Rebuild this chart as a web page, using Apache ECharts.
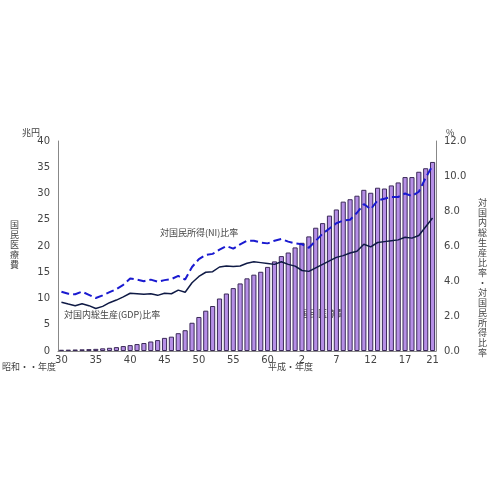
<!DOCTYPE html>
<html>
<head>
<meta charset="utf-8">
<script src="https://cdn.jsdelivr.net/npm/echarts@6/dist/echarts.min.js"></script>
<style>html,body{margin:0;padding:0;background:#fff}#main{width:500px;height:500px}</style>
</head>
<body>
<div id="main"></div>
<script>
// 昭和30〜63, 平成1〜21
const years = []
for (let i = 30; i <= 63; i++) years.push(String(i))
for (let i = 1; i <= 21; i++) years.push(String(i))
const shownIdx = [0, 5, 10, 15, 20, 25, 30, 35, 40, 45, 50, 54]

// 国民医療費 (兆円)
const medical = [0.24, 0.26, 0.29, 0.32, 0.36, 0.41, 0.51, 0.61, 0.74, 0.94,
	1.12, 1.32, 1.52, 1.81, 2.08, 2.50, 2.73, 3.39, 3.96, 5.38,
	6.48, 7.68, 8.57, 10.0, 10.95, 11.98, 12.87, 13.84, 14.54, 15.09,
	16.02, 17.07, 18.08, 18.76, 19.73, 20.61, 21.83, 23.48, 24.36, 25.79,
	26.96, 28.45, 28.91, 29.58, 30.70, 30.14, 31.10, 30.95, 31.54, 32.11,
	33.13, 33.13, 34.14, 34.81, 36.01]

// 対国民所得(NI)比率 (%)
const niRatio = [3.39, 3.27, 3.24, 3.39, 3.21, 3.03, 3.18, 3.36, 3.54, 3.78,
	4.14, 4.08, 3.99, 4.08, 3.96, 4.05, 4.11, 4.29, 4.08, 4.80,
	5.25, 5.49, 5.55, 5.79, 6.00, 5.85, 6.09, 6.30, 6.30, 6.20,
	6.15, 6.30, 6.40, 6.25, 6.15, 6.10, 5.90, 6.30, 6.70, 7.00,
	7.30, 7.45, 7.50, 7.90, 8.40, 8.10, 8.60, 8.70, 8.80, 8.80,
	9.00, 8.85, 9.10, 9.90, 10.60]

// 対国内総生産(GDP)比率 (%)
const gdpRatio = [2.78, 2.68, 2.59, 2.70, 2.59, 2.43, 2.55, 2.76, 2.91, 3.09,
	3.30, 3.27, 3.24, 3.27, 3.18, 3.30, 3.27, 3.48, 3.36, 3.90,
	4.26, 4.50, 4.53, 4.80, 4.86, 4.83, 4.86, 5.01, 5.10, 5.05,
	5.00, 4.95, 5.10, 4.95, 4.85, 4.60, 4.55, 4.75, 4.95, 5.15,
	5.35, 5.45, 5.60, 5.70, 6.10, 5.95, 6.20, 6.25, 6.30, 6.35,
	6.50, 6.45, 6.60, 7.10, 7.60]

const chart = echarts.init(document.getElementById('main'))
const txt = { fontSize: 9, fill: '#444', fontFamily: 'Noto Sans CJK JP' }
chart.setOption({
	animation: false,
	grid: { left: 58, right: 64, top: 141, bottom: 149 },
	xAxis: {
		type: 'category',
		data: years,
		axisTick: { show: false },
		axisLine: { lineStyle: { color: '#888' } },
		axisLabel: {
			interval: (i) => shownIdx.includes(i),
			color: '#444', fontSize: 10, margin: 4, fontFamily: 'DejaVu Sans'
		}
	},
	yAxis: [{
		type: 'value', min: 0, max: 40, interval: 5,
		splitLine: { show: false },
		axisLine: { show: true, lineStyle: { color: '#888' } },
		axisLabel: { color: '#444', fontSize: 10, fontFamily: 'DejaVu Sans' }
	}, {
		type: 'value', min: 0, max: 12, interval: 2,
		splitLine: { show: false },
		axisLine: { show: true, lineStyle: { color: '#888' } },
		axisLabel: { color: '#444', fontSize: 10, fontFamily: 'DejaVu Sans', formatter: (v) => v.toFixed(1) }
	}],
	series: [{
		type: 'bar',
		data: medical,
		barCategoryGap: '25%',
		itemStyle: { color: '#b68fe6', borderColor: '#3b2a58', borderWidth: 1 }
	}, {
		type: 'line',
		yAxisIndex: 1,
		data: niRatio,
		symbol: 'none',
		lineStyle: { color: '#1a1ad0', width: 2, type: 'dashed' }
	}, {
		type: 'line',
		yAxisIndex: 1,
		data: gdpRatio,
		symbol: 'none',
		lineStyle: { color: '#0f1a45', width: 1.5 }
	}],
	graphic: [
		{ type: 'text', left: 22, top: 128, style: { ...txt, text: '兆円' } },
		{ type: 'text', left: 446, top: 128, style: { ...txt, text: '%' } },
		{ type: 'text', left: 10, top: 220, style: { ...txt, text: '国\n民\n医\n療\n費', lineHeight: 10 } },
		{ type: 'text', left: 478, top: 198, style: { ...txt, text: '対\n国\n内\n総\n生\n産\n比\n率\n・\n対\n国\n民\n所\n得\n比\n率', lineHeight: 10 } },
		{ type: 'text', left: 2, top: 362, style: { ...txt, text: '昭和・・年度' } },
		{ type: 'text', left: 268, top: 362, style: { ...txt, text: '平成・年度' } },
		{ type: 'text', left: 160, top: 228, style: { ...txt, text: '対国民所得(NI)比率' } },
		{ type: 'text', left: 64, top: 310, style: { ...txt, text: '対国内総生産(GDP)比率' } },
		{ type: 'rect', shape: { x: 285, y: 307, width: 82, height: 13 }, style: { fill: '#fff' } },
		{ type: 'text', left: 300, top: 309, style: { ...txt, text: '国民医療費' } }
	]
})
</script>
</body>
</html>
